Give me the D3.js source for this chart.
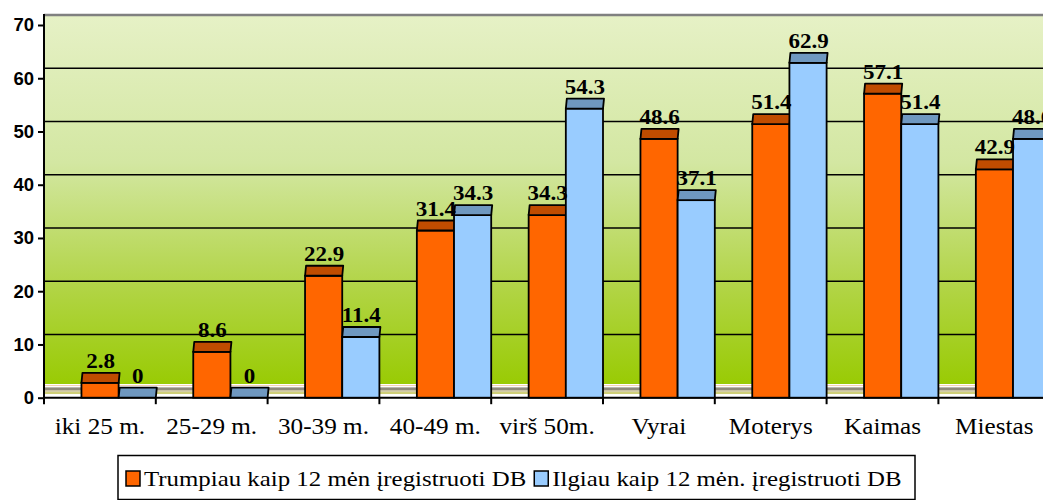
<!DOCTYPE html>
<html>
<head>
<meta charset="utf-8">
<script src="https://cdn.jsdelivr.net/npm/d3@7"></script>
<style>
  body { margin: 0; background: #fff; }
  svg { display: block; }
</style>
</head>
<body>
<div id="chart"></div>
<script>
// data
const categories = ['iki 25 m.', '25-29 m.', '30-39 m.', '40-49 m.', 'virš 50m.', 'Vyrai', 'Moterys', 'Kaimas', 'Miestas'];
const seriesNames = ['Trumpiau kaip 12 mėn įregistruoti DB', 'Ilgiau kaip 12 mėn. įregistruoti DB'];
const shortValues = [2.8, 8.6, 22.9, 31.4, 34.3, 48.6, 51.4, 57.1, 42.9];
const longValues = [0, 0, 11.4, 34.3, 54.3, 37.1, 62.9, 51.4, 48.6];
const yTicks = [0, 10, 20, 30, 40, 50, 60, 70];

const W = 1043, H = 500;
const left = 44, bandW = 111.8;
const depthX = 1, depthY = 10;   // oblique 3D offset of the back plane
const colors = [
  { front: '#ff6600', top: '#c04c00' },
  { front: '#99ccff', top: '#6f98c0' }
];
const serif = '"Liberation Serif", "Times New Roman", serif';

const svg = d3.select('#chart').append('svg').attr('width', W).attr('height', H);
const defs = svg.append('defs');
const grad = defs.append('linearGradient').attr('id', 'wall')
  .attr('x1', 0).attr('y1', 0).attr('x2', 0).attr('y2', 1);
[[0, '#e6f1c6'], [0.4, '#d3e7a2'], [0.72, '#b3d54a'], [1, '#99cb04']].forEach(([o, c]) =>
  grad.append('stop').attr('offset', o).attr('stop-color', c));

const x = d3.scaleBand().domain(categories).range([left, left + bandW * categories.length]).paddingInner(0);
const xs = d3.scaleBand().domain([0, 1]).range([bandW * 0.335, bandW]);
const y = d3.scaleLinear().domain([0, 70]).range([397.7, 25]);

// back wall
const wallTop = y(70) - depthY;
const wallBottom = 384;
svg.append('rect').attr('x', left).attr('y', wallTop).attr('width', W - left).attr('height', wallBottom - wallTop)
  .attr('fill', 'url(#wall)');

// floor stripes
const floor = svg.append('g');
[[384, 1.2, '#ffffff'], [385.2, 1, '#f0c8a0'], [386.2, 1.2, '#ffffff'], [387.4, 2.6, '#8f8a7a'],
 [390, 1.8, '#c9c0a0'], [391.8, 2.4, '#cfcf78'], [394.2, 2.6, '#ffffff']].forEach(([yy, h, c]) =>
  floor.append('rect').attr('x', left).attr('y', yy).attr('width', W - left).attr('height', h).attr('fill', c));

// gridlines on back wall
svg.append('g').selectAll('line').data(yTicks.filter(d => d > 0 && d < 70)).join('line')
  .attr('x1', left).attr('x2', W).attr('y1', d => y(d) - depthY).attr('y2', d => y(d) - depthY)
  .attr('stroke', '#000').attr('stroke-width', 1.6);
svg.append('line').attr('x1', left).attr('x2', W).attr('y1', wallTop).attr('y2', wallTop)
  .attr('stroke', '#808080').attr('stroke-width', 2.6);

// y axis
const yAxis = svg.append('g').attr('transform', `translate(${left},0)`)
  .call(d3.axisLeft(y).tickValues(yTicks).tickSize(6).tickPadding(4).tickSizeOuter(0));
yAxis.select('.domain').remove();
yAxis.selectAll('.tick line').attr('stroke', '#000').attr('stroke-width', 2);
yAxis.selectAll('.tick text').attr('fill', '#000')
  .style('font-family', '"Liberation Sans", Arial, sans-serif').style('font-size', '18.5px').style('font-weight', 'bold');
svg.append('line').attr('x1', left).attr('x2', left).attr('y1', wallTop - 1).attr('y2', 402)
  .attr('stroke', '#000').attr('stroke-width', 2);

// x axis line + ticks at band edges
svg.append('line').attr('x1', left).attr('x2', W).attr('y1', y(0)).attr('y2', y(0))
  .attr('stroke', '#000').attr('stroke-width', 2);
svg.append('g').selectAll('line').data(categories.map((c, i) => left + bandW * i).concat([left + bandW * categories.length]))
  .join('line').attr('x1', d => d).attr('x2', d => d).attr('y1', y(0)).attr('y2', y(0) + 6.5)
  .attr('stroke', '#000').attr('stroke-width', 2);

// bars
const rows = [];
categories.forEach((c, i) => {
  [shortValues[i], longValues[i]].forEach((v, s) => rows.push({ c, s, v }));
});
const barBox = d => {
  const x0 = x(d.c) + xs(d.s);
  return { x0, x1: x0 + xs.bandwidth(), yt: y(d.v), yb: y(0) };
};
const bars = svg.append('g').selectAll('g').data(rows).join('g');
bars.each(function (d) {
  const g = d3.select(this);
  const { x0, x1, yt, yb } = barBox(d);
  const col = colors[d.s];
  if (yb - yt > 0.5) {
    g.append('rect').attr('x', x0).attr('y', yt).attr('width', x1 - x0).attr('height', yb - yt)
      .attr('fill', col.front).attr('stroke', '#000').attr('stroke-width', 1.8);
  }
  g.append('polygon')
    .attr('points', [[x0, yt], [x0 + depthX, yt - depthY], [x1 + depthX, yt - depthY], [x1, yt]].join(' '))
    .attr('fill', col.top).attr('stroke', '#000').attr('stroke-width', 1.8).attr('stroke-linejoin', 'round');
});

// value labels
svg.append('g').selectAll('text').data(rows).join('text')
  .attr('transform', d => {
    const b = barBox(d);
    return `translate(${(b.x0 + b.x1) / 2 + depthX / 2},${b.yt - depthY - 5}) scale(1.15,1)`;
  })
  .attr('text-anchor', 'middle')
  .style('font-family', serif)
  .style('font-size', '20px').style('font-weight', 'bold')
  .text(d => String(d.v));

// category labels
svg.append('g').selectAll('text').data(categories).join('text')
  .attr('transform', d => `translate(${x(d) + x.bandwidth() / 2},434) scale(1.12,1)`)
  .attr('text-anchor', 'middle')
  .style('font-family', serif)
  .style('font-size', '22.5px')
  .text(d => d);

// legend
const leg = svg.append('g');
leg.append('rect').attr('x', 118).attr('y', 455.5).attr('width', 797).attr('height', 44)
  .attr('fill', '#fff').attr('stroke', '#000').attr('stroke-width', 1.5);
let lx = 126;
seriesNames.forEach((name, i) => {
  leg.append('rect').attr('x', lx).attr('y', 471).attr('width', 14).attr('height', 15)
    .attr('fill', colors[i].front).attr('stroke', '#000').attr('stroke-width', 1.5);
  const t = leg.append('text').attr('transform', `translate(${lx + 18},486) scale(1.13,1)`)
    .style('font-family', serif)
    .style('font-size', '22px')
    .text(name);
  lx += 18 + t.node().getComputedTextLength() * 1.13 + 8;
});
</script>
</body>
</html>
